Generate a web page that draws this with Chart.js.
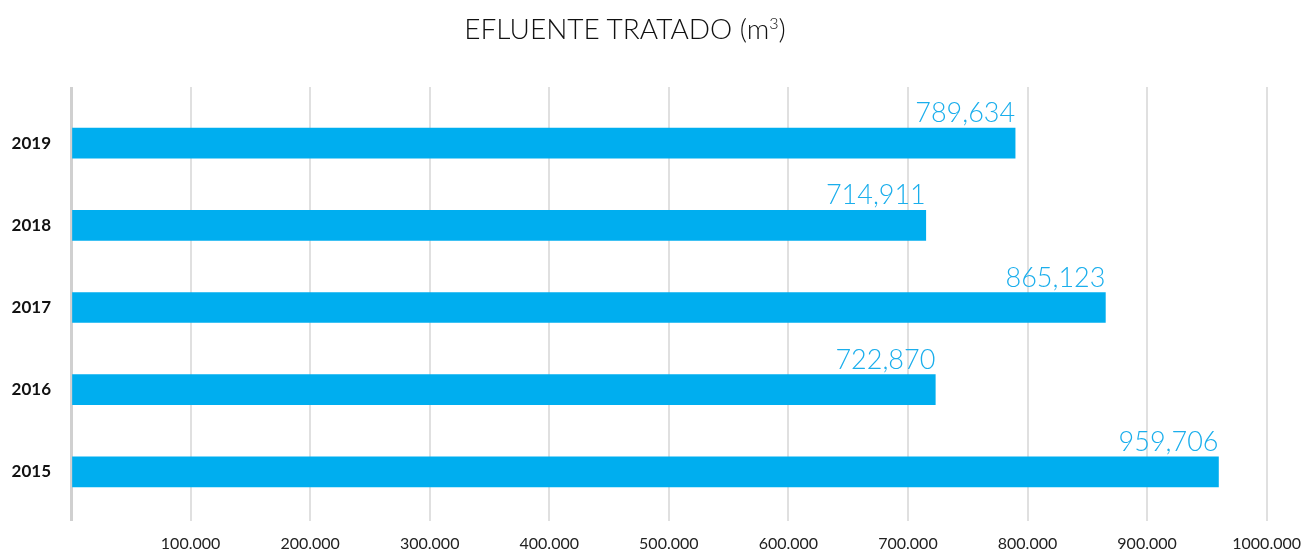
<!DOCTYPE html>
<html>
<head>
<meta charset="utf-8">
<script src="https://cdn.jsdelivr.net/npm/chart.js@4"></script>
<style>
  body { margin: 0; background: #fff; }
  #wrap { position: relative; width: 1314px; height: 552px; }
  #title { position: absolute; top: 11px; left: 0; width: 1250px; text-align: center;
           font-family: Lato, sans-serif; font-size: 28px; font-weight: 300; color: #111; }
  #title sup { font-size: 16px; }
</style>
</head>
<body>
<div id="wrap">
  <div id="title">EFLUENTE TRATADO (m<sup>3</sup>)</div>
  <canvas id="myChart" width="1314" height="552"></canvas>
</div>
<script>
const years = ['2019', '2018', '2017', '2016', '2015'];
const volumes = [789634, 714911, 865123, 722870, 959706];
const valueLabels = ['789,634', '714,911', '865,123', '722,870', '959,706'];
const xTicksMax = 1000000;
const xStep = 100000;

// value labels drawn above the end of each bar
const barLabels = {
    id: 'barLabels',
    afterDatasetsDraw(chart) {
        const ctx = chart.ctx;
        const meta = chart.getDatasetMeta(0);
        ctx.save();
        ctx.font = '300 27px Lato, sans-serif';
        ctx.fillStyle = '#1aaeec';
        ctx.textAlign = 'right';
        ctx.textBaseline = 'alphabetic';
        meta.data.forEach((bar, i) => {
            ctx.fillText(valueLabels[i], bar.x, bar.y - bar.height / 2 - 6);
        });
        ctx.restore();
    }
};

function gridWidth(c) { return c.tick && c.tick.value === 0 ? 3 : 2; }
function gridColor(c) { return c.tick && c.tick.value === 0 ? '#d0d0d0' : '#e0e0e0'; }

const ctx1 = document.getElementById('myChart').getContext('2d');
new Chart(ctx1, {
    type: 'bar',
    data: {
        labels: years,
        datasets: [{
            label: 'Efluente tratado',
            backgroundColor: '#00aeef',
            data: volumes,
            barThickness: 30
        }]
    },
    plugins: [barLabels],
    options: {
        indexAxis: 'y',
        responsive: false,
        animation: false,
        layout: { padding: { top: 87, right: 44, left: 0, bottom: 0 } },
        plugins: {
            legend: { display: false },
            tooltip: { enabled: false }
        },
        scales: {
            x: {
                min: 0,
                max: xTicksMax,
                afterFit(s) { s.height = 39; },
                border: { display: false },
                grid: { color: gridColor, lineWidth: gridWidth, tickLength: 8 },
                ticks: {
                    stepSize: xStep,
                    padding: 13,
                    color: '#222',
                    font: { family: 'Lato, sans-serif', size: 16 },
                    callback: v => v === 0 ? '' : (v / 1000) + '.000'
                }
            },
            x2: {
                axis: 'x',
                position: 'top',
                min: 0,
                max: xTicksMax,
                border: { display: false },
                grid: { color: gridColor, lineWidth: gridWidth, tickLength: 15, drawOnChartArea: false },
                ticks: { stepSize: xStep, display: false }
            },
            y: {
                afterFit(s) { s.width = 71; },
                border: { display: false },
                grid: { display: false },
                ticks: {
                    padding: 12,
                    color: '#111',
                    font: { family: 'Lato, sans-serif', size: 17, weight: 'bold' }
                }
            }
        }
    }
});
</script>
</body>
</html>
